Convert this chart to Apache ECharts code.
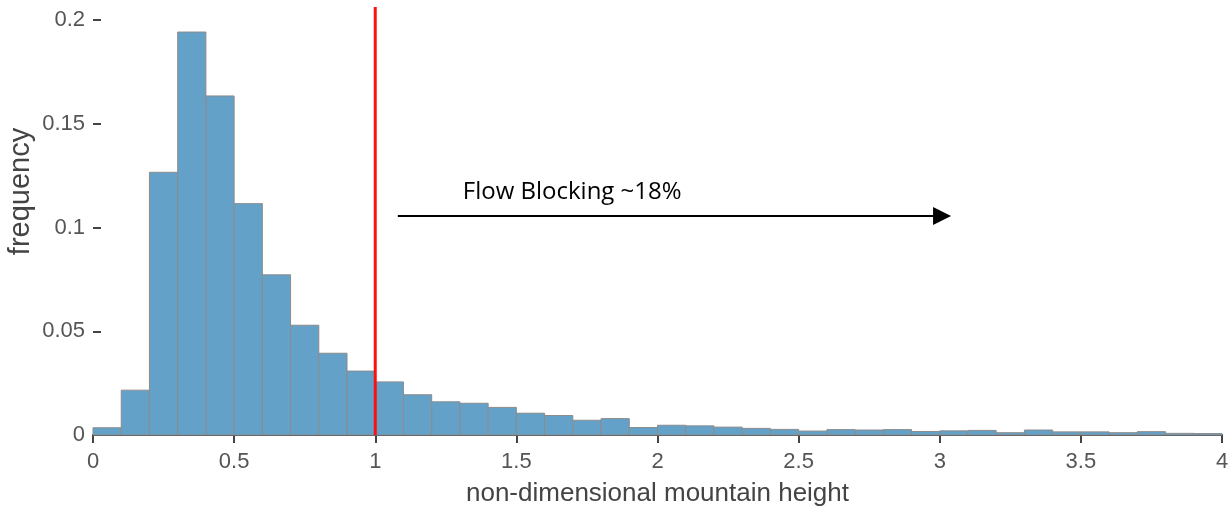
<!DOCTYPE html>
<html>
<head>
<meta charset="utf-8">
<script src="https://cdn.jsdelivr.net/npm/echarts@6/dist/echarts.min.js"></script>
<style>
html,body{margin:0;padding:0;background:#fff;}
#chart{width:1232px;height:509px;}
</style>
</head>
<body>
<div id="chart"></div>
<script>
// Histogram bins (left edges), width 0.1
const binLeft = [0.0,0.1,0.2,0.3,0.4,0.5,0.6,0.7,0.8,0.9,
                 1.0,1.1,1.2,1.3,1.4,1.5,1.6,1.7,1.8,1.9,
                 2.0,2.1,2.2,2.3,2.4,2.5,2.6,2.7,2.8,2.9,
                 3.0,3.1,3.2,3.3,3.4,3.5,3.6,3.7,3.8,3.9];
const binWidth = 0.1;
const frequency = [0.0035,0.0216,0.1266,0.1942,0.1634,0.1115,0.0772,0.0529,0.0394,0.0308,
                   0.0256,0.0194,0.0160,0.0153,0.0133,0.0105,0.0094,0.0071,0.0079,0.0036,
                   0.0047,0.0044,0.0038,0.0032,0.0027,0.0019,0.0026,0.0024,0.0026,0.0017,
                   0.0020,0.0022,0.0011,0.0024,0.0015,0.0015,0.0011,0.0016,0.0008,0.0007];
const xTicks = ['0','0.5','1','1.5','2','2.5','3','3.5','4'];
const yTicks = ['0','0.05','0.1','0.15','0.2'];
const thresholdX = 1;
const annotationText = 'Flow Blocking ~18%';
const arrowFrom = [1.08, 0.1056];
const arrowTo = [3.04, 0.1056];
const textAt = [1.31, 0.1170];

const chart = echarts.init(document.getElementById('chart'), null, {renderer:'canvas'});
const labelFont = 'Liberation Sans, Arial, Helvetica, sans-serif';

chart.setOption({
  animation:false,
  grid:{left:93,right:10,top:20,bottom:74,containLabel:false,outerBoundsMode:'none'},
  xAxis:{
    type:'value',min:0,max:4,interval:0.5,
    name:'non-dimensional mountain height',nameLocation:'middle',nameGap:46,nameMoveOverlap:false,
    nameTextStyle:{fontFamily:labelFont,fontSize:26,color:'#444'},
    axisLine:{show:true,onZero:false,lineStyle:{color:'#444',width:2}},
    axisTick:{show:true,length:8,lineStyle:{color:'#444',width:2}},
    axisLabel:{fontFamily:labelFont,fontSize:22,color:'#555',margin:16,
      formatter:(v)=>xTicks[Math.round(v/0.5)]},
    splitLine:{show:false}
  },
  yAxis:{
    type:'value',min:0,max:0.2,interval:0.05,
    name:'frequency',nameLocation:'middle',nameGap:58,nameRotate:90,nameMoveOverlap:false,
    nameTextStyle:{fontFamily:labelFont,fontSize:29,color:'#444',padding:[0,0,0,72]},
    axisLine:{show:false},
    axisTick:{show:true,inside:true,length:8,lineStyle:{color:'#444',width:2}},
    axisLabel:{fontFamily:labelFont,fontSize:22,color:'#555',margin:8,
      formatter:(v)=>yTicks[Math.round(v/0.05)]},
    splitLine:{show:false}
  },
  series:[
    {
      type:'custom',
      name:'histogram',
      data:binLeft.map((b,i)=>[b,frequency[i]]),
      renderItem:(params,api)=>{
        const x0=api.value(0), v=api.value(1);
        const p0=api.coord([x0,v]);
        const p1=api.coord([x0+binWidth,0]);
        return {type:'rect',shape:{x:p0[0],y:p0[1],width:p1[0]-p0[0],height:p1[1]-p0[1]},
          style:{fill:'#64a1c8',stroke:'#8c8c8c',lineWidth:1}};
      },
      z:2
    },
    {
      type:'custom',
      name:'threshold',
      clip:false,
      data:[[thresholdX]],
      renderItem:(params,api)=>{
        const top=api.coord([api.value(0),0.2]);
        const bot=api.coord([api.value(0),0]);
        return {type:'line',shape:{x1:top[0],y1:top[1]-13,x2:bot[0],y2:bot[1]},
          style:{stroke:'#ff1010',lineWidth:3}};
      },
      z:4
    },
    {
      type:'custom',
      name:'annotation',
      clip:false,
      data:[[arrowFrom[0],arrowFrom[1],arrowTo[0],arrowTo[1],textAt[0],textAt[1]]],
      renderItem:(params,api)=>{
        const a=api.coord([api.value(0),api.value(1)]);
        const b=api.coord([api.value(2),api.value(3)]);
        const t=api.coord([api.value(4),api.value(5)]);
        const head=18;
        return {type:'group',children:[
          {type:'line',shape:{x1:a[0],y1:a[1],x2:b[0]-head+1,y2:b[1]},style:{stroke:'#000',lineWidth:2}},
          {type:'polygon',shape:{points:[[b[0]-head,b[1]-9],[b[0],b[1]],[b[0]-head,b[1]+9]]},style:{fill:'#000'}},
          {type:'text',x:t[0],y:t[1],style:{text:annotationText,fill:'#000',
            font:'24px "Open Sans", Lato, sans-serif',textAlign:'left',textVerticalAlign:'middle'}}
        ]};
      },
      z:5
    }
  ]
});
</script>
</body>
</html>
